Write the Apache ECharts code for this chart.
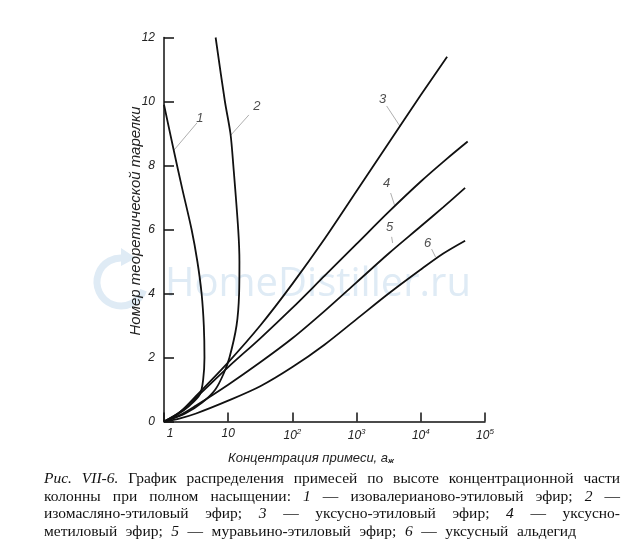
<!DOCTYPE html>
<html><head><meta charset="utf-8">
<script src="https://cdn.jsdelivr.net/npm/echarts@6/dist/echarts.min.js"></script>
<style>html,body{margin:0;padding:0;background:#fff}#c{width:632px;height:557px}</style>
</head><body><div id="c"></div>
<script>
// ---- data (concentration a_ж on log axis, plate number on y) ----
const curve1X = [1, 1.41, 1.91, 2.69, 3.31, 3.85, 4.17, 4.27, 4.07, 3.63, 2.51, 1.58, 1];
const curve1Y = [9.9, 8.5, 7.3, 6.0, 5.0, 4.0, 3.0, 2.0, 1.3, 0.85, 0.5, 0.2, 0];
const curve2X = [6.37, 8.89, 10.84, 12.02, 14.32, 14.96, 14.79, 13.49, 10.47, 8.51, 6.31, 3.98, 2.14, 1];
const curve2Y = [12.0, 10.0, 9.0, 8.0, 6.0, 5.0, 4.0, 3.0, 2.0, 1.5, 1.0, 0.6, 0.25, 0];
const curve3X = [1, 1.78, 3.16, 10, 31.6, 100, 316, 1000, 3160, 10000, 25700];
const curve3Y = [0, 0.3, 0.8, 1.85, 3.0, 4.3, 5.7, 7.2, 8.7, 10.2, 11.4];
const curve4X = [1, 1.78, 3.16, 10, 31.6, 100, 316, 1000, 3160, 10000, 25100, 53700];
const curve4Y = [0, 0.3, 0.75, 1.7, 2.6, 3.55, 4.55, 5.55, 6.55, 7.5, 8.2, 8.75];
const curve5X = [1, 1.78, 3.16, 10, 31.6, 100, 316, 1000, 3160, 10000, 22400, 49000];
const curve5Y = [0, 0.2, 0.5, 1.15, 1.85, 2.6, 3.45, 4.35, 5.25, 6.1, 6.7, 7.3];
const curve6X = [1, 1.78, 3.16, 10, 31.6, 100, 316, 1000, 3160, 10000, 22400, 49000];
const curve6Y = [0, 0.1, 0.25, 0.65, 1.1, 1.7, 2.4, 3.2, 4.0, 4.75, 5.25, 5.65];
const curveNames = ['1', '2', '3', '4', '5', '6'];

// curve number labels and leader lines (data coordinates)
const labelX = [3.63, 27.9, 2547, 2938, 3270, 12760];
const labelY = [9.48, 9.86, 10.08, 7.45, 6.08, 5.58];
const leaderFromX = [3.26, 21.0, 2938, 3390, 3515, 14720];
const leaderFromY = [9.33, 9.58, 9.86, 7.14, 5.77, 5.39];
const leaderToX = [1.43, 11.0, 4800, 3890, 3640, 16980];
const leaderToY = [8.48, 8.95, 9.21, 6.77, 5.58, 5.14];

const xTicks = [1, 10, 100, 1000, 10000, 100000];
const yMin = 0, yMax = 12, yStep = 2;

const xAxisTitle = 'Концентрация примеси, a{sub|ж}';
const yAxisTitle = 'Номер теоретической тарелки';
const captionLines = [
  '*Рис. VII-6.* График распределения примесей по высоте концентрационной части',
  'колонны при полном насыщении: *1* — изовалерианово-этиловый эфир; *2* —',
  'изомасляно-этиловый эфир; *3* — уксусно-этиловый эфир; *4* — уксусно-',
  'метиловый эфир; *5* — муравьино-этиловый эфир; *6* — уксусный альдегид'
];
const watermark = 'HomeDistiller.ru';

// ---- chart ----
const chart = echarts.init(document.getElementById('c'), null, {renderer: 'canvas'});
const curvesX = [curve1X, curve2X, curve3X, curve4X, curve5X, curve6X];
const curvesY = [curve1Y, curve2Y, curve3Y, curve4Y, curve5Y, curve6Y];

const series = [];
curvesX.forEach((xs, i) => {
  series.push({
    name: curveNames[i], type: 'line', smooth: 0.3, symbol: 'none', z: 5,
    data: xs.map((x, j) => [x, curvesY[i][j]]),
    lineStyle: {color: '#111', width: 1.8}
  });
  series.push({
    type: 'line', symbol: 'none', silent: true, z: 4,
    data: [[leaderFromX[i], leaderFromY[i]], [leaderToX[i], leaderToY[i]]],
    lineStyle: {color: '#999', width: 0.8}
  });
});
series.push({
  type: 'scatter', symbolSize: 1, z: 6, silent: true,
  itemStyle: {color: 'rgba(0,0,0,0)'},
  data: labelX.map((x, i) => ({value: [x, labelY[i]], name: curveNames[i]})),
  label: {show: true, position: 'inside', formatter: '{b}', color: '#222',
          fontStyle: 'italic', fontSize: 13, fontFamily: 'Liberation Sans'}
});

// caption layout (justified)
const ctx = document.createElement('canvas').getContext('2d');
const capFont = '15.5px "Liberation Serif"';
const capFontI = 'italic 15.5px "Liberation Serif"';
const capX0 = 44, capW = 576, capY0 = 479, capLH = 17.5;
const graphics = [];
captionLines.forEach((line, li) => {
  let it = false;
  const words = line.split(' ').map(w => {
    if (w.startsWith('*')) { it = true; w = w.slice(1); }
    let wi = it;
    if (w.endsWith('*')) { w = w.slice(0, -1); it = false; }
    ctx.font = wi ? capFontI : capFont;
    return {t: w, it: wi, w: ctx.measureText(w).width};
  });
  const sum = words.reduce((a, b) => a + b.w, 0);
  ctx.font = capFont;
  const justify = li < captionLines.length - 1;
  const gap = justify ? (capW - sum) / (words.length - 1) : ctx.measureText(' ').width * 2.2;
  let x = capX0;
  words.forEach(wd => {
    graphics.push({type: 'text', x: x, y: capY0 + li * capLH, z: 10,
      style: {text: wd.t, font: wd.it ? capFontI : capFont, fill: '#111', verticalAlign: 'middle'}});
    x += wd.w + gap;
  });
});

// watermark
graphics.push({type: 'text', x: 318, y: 285, z: 0,
  style: {text: watermark, font: '40px "Open Sans"', fill: '#dfebf5', align: 'center', verticalAlign: 'middle'}});
graphics.push({type: 'arc', z: 0, shape: {cx: 121, cy: 282, r: 24, startAngle: 0.35, endAngle: 2 * Math.PI - 1.35, clockwise: true},
  style: {stroke: '#dfebf5', lineWidth: 7, fill: null}});
graphics.push({type: 'polygon', z: 0, shape: {points: [[121, 248], [136, 258], [121, 266]]},
  style: {fill: '#dfebf5'}});

// axis titles
graphics.push({type: 'text', x: 311, y: 458, z: 10,
  style: {text: xAxisTitle, font: 'italic 13px "Liberation Sans"', fill: '#222', align: 'center', verticalAlign: 'middle',
    rich: {sub: {fontSize: 8, fontStyle: 'italic', fontWeight: 'bold', padding: [6, 0, 0, 0], fill: '#222'}}}});
graphics.push({type: 'text', x: 136, y: 221, rotation: Math.PI / 2, z: 10,
  style: {text: yAxisTitle, font: 'italic 15px "Liberation Sans"', fill: '#222', align: 'center', verticalAlign: 'middle'}});

chart.setOption({
  backgroundColor: '#fff',
  animation: false,
  grid: {left: 164, top: 37.5, width: 321, height: 384, containLabel: false},
  xAxis: {
    type: 'log', logBase: 10, min: xTicks[0], max: xTicks[xTicks.length - 1],
    axisLine: {show: true, lineStyle: {color: '#111', width: 1.5}},
    axisTick: {show: true, inside: true, length: 9, lineStyle: {color: '#111', width: 1.5}},
    minorTick: {show: false}, splitLine: {show: false},
    axisLabel: {
      margin: 6, color: '#222', fontSize: 12, fontStyle: 'italic', fontFamily: 'Liberation Sans',
      formatter: v => {
        const p = Math.round(Math.log10(v));
        if (p === 0) return '{o|1}';
        if (p === 1) return '10';
        return '10{s|' + p + '}';
      },
      rich: {
        o: {fontSize: 12, fontStyle: 'italic', padding: [0, 0, 0, 12], color: '#222'},
        s: {fontSize: 8, fontStyle: 'italic', verticalAlign: 'top', padding: [0, 0, 8, 0], color: '#222'}
      }
    }
  },
  yAxis: {
    type: 'value', min: yMin, max: yMax, interval: yStep,
    axisLine: {show: true, lineStyle: {color: '#111', width: 1.5}},
    axisTick: {show: true, inside: true, length: 10, lineStyle: {color: '#111', width: 1.5}},
    splitLine: {show: false},
    axisLabel: {margin: 9, color: '#222', fontSize: 12, fontStyle: 'italic', fontFamily: 'Liberation Sans'}
  },
  graphic: graphics,
  series: series
});
</script></body></html>
